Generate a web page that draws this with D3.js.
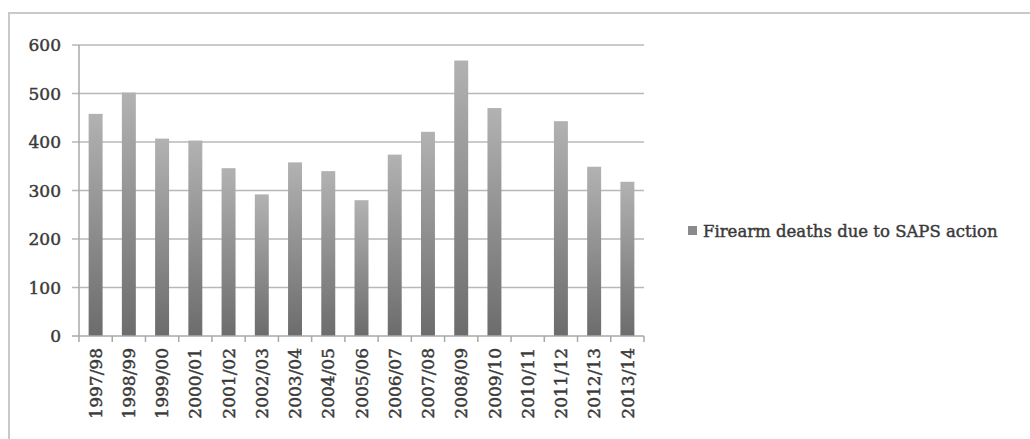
<!DOCTYPE html>
<html>
<head>
<meta charset="utf-8">
<script src="https://cdn.jsdelivr.net/npm/d3@7"></script>
<style>
  html, body { margin: 0; padding: 0; background: #fff; }
  svg { display: block; }
  text { font-family: "DejaVu Serif", "Liberation Serif", serif; fill: #3a3a3a; stroke: #3a3a3a; stroke-width: 0.45px; }
</style>
</head>
<body>
<svg id="chart" width="1030" height="439"></svg>
<script>
// Financial years and firearm deaths from police action (2010/11 not reported)
const years = ["1997/98","1998/99","1999/00","2000/01","2001/02","2002/03","2003/04",
               "2004/05","2005/06","2006/07","2007/08","2008/09","2009/10","2010/11",
               "2011/12","2012/13","2013/14"];
const deaths = [458, 502, 407, 403, 346, 292, 358, 340, 280, 374, 421, 568, 470, null, 443, 349, 318];
const yTicks = [0, 100, 200, 300, 400, 500, 600];
const seriesName = "Firearm deaths due to SAPS action";

const svg = d3.select("#chart");

// outer chart frame
svg.append("rect")
  .attr("x", 9).attr("y", 13)
  .attr("width", 1040).attr("height", 450)
  .attr("fill", "none").attr("stroke", "#c9c9c9").attr("stroke-width", 2);

const plot = { left: 79, right: 644, top: 45, bottom: 336 };

const x = d3.scaleBand().domain(years).range([plot.left, plot.right]).padding(0);
const y = d3.scaleLinear().domain([0, 600]).range([plot.bottom, plot.top]);

// bar fill: lighter at the top, darker toward the base
const grad = svg.append("defs").append("linearGradient")
  .attr("id", "barFill").attr("x1", 0).attr("y1", 0).attr("x2", 0).attr("y2", 1);
grad.append("stop").attr("offset", "0%").attr("stop-color", "#b2b2b2");
grad.append("stop").attr("offset", "100%").attr("stop-color", "#6c6c6c");

// horizontal gridlines with left tick stubs
svg.append("g").selectAll("line").data(yTicks.filter(d => d > 0)).join("line")
  .attr("x1", plot.left - 7).attr("x2", plot.right)
  .attr("y1", d => y(d)).attr("y2", d => y(d))
  .attr("stroke", "#b8b8b8").attr("stroke-width", 1.5);

// y axis labels
svg.append("g").selectAll("text").data(yTicks).join("text")
  .attr("x", 61).attr("y", d => y(d)).attr("dy", "0.36em")
  .attr("text-anchor", "end").attr("font-size", 17)
  .text(d => d);

// bars
const barW = x.bandwidth() * 0.42;
svg.append("g").selectAll("rect").data(years.map((c, i) => ({ c, v: deaths[i] })).filter(d => d.v != null))
  .join("rect")
  .attr("x", d => x(d.c) + (x.bandwidth() - barW) / 2)
  .attr("y", d => y(d.v))
  .attr("width", barW)
  .attr("height", d => y(0) - y(d.v))
  .attr("fill", "url(#barFill)");

// axis lines
svg.append("line")
  .attr("x1", plot.left).attr("x2", plot.left)
  .attr("y1", plot.top).attr("y2", plot.bottom)
  .attr("stroke", "#a8a8a8").attr("stroke-width", 1.5);
svg.append("line")
  .attr("x1", plot.left - 7).attr("x2", plot.right)
  .attr("y1", plot.bottom).attr("y2", plot.bottom)
  .attr("stroke", "#a8a8a8").attr("stroke-width", 1.5);

// category tick marks at band edges
const edges = years.map(c => x(c)).concat([x(years[years.length - 1]) + x.bandwidth()]);
svg.append("g").selectAll("line").data(edges).join("line")
  .attr("x1", d => d).attr("x2", d => d)
  .attr("y1", plot.bottom).attr("y2", plot.bottom + 6)
  .attr("stroke", "#a8a8a8").attr("stroke-width", 1.5);

// rotated category labels
svg.append("g").selectAll("text").data(years).join("text")
  .attr("transform", d => `translate(${x(d) + x.bandwidth() / 2},348) rotate(-90)`)
  .attr("text-anchor", "end").attr("dy", "0.36em")
  .attr("font-size", 17)
  .text(d => d);

// legend
svg.append("rect")
  .attr("x", 688).attr("y", 226).attr("width", 9).attr("height", 9)
  .attr("fill", "#8a8a8a");
svg.append("text")
  .attr("x", 703).attr("y", 237)
  .attr("font-size", 16.5)
  .text(seriesName);
</script>
</body>
</html>
